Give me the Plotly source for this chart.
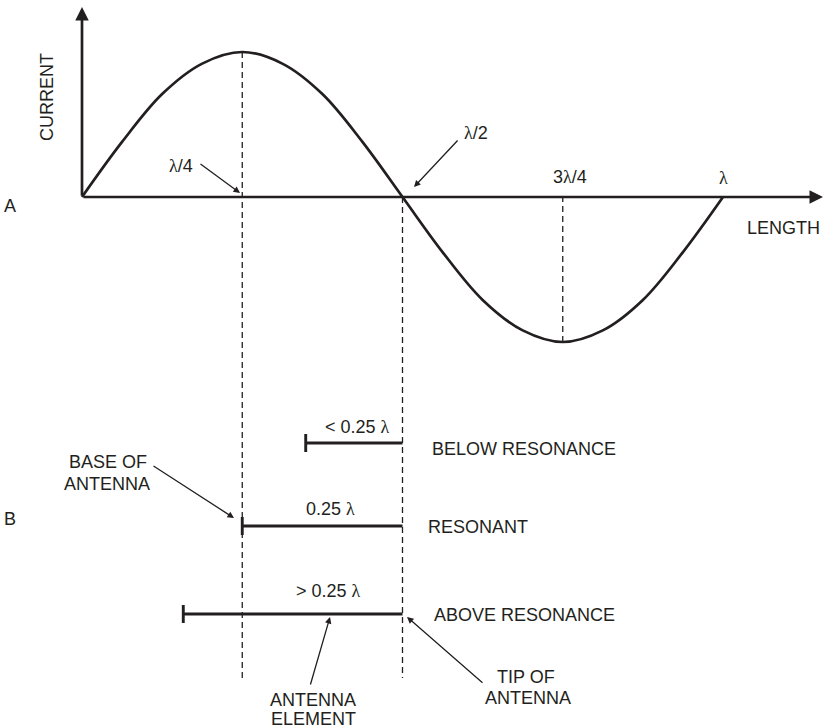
import plotly.graph_objects as go

# ---- data (x in wavelengths, y in relative current) ----
wave_x = [0, 0.0625, 0.125, 0.1875, 0.25, 0.3125, 0.375, 0.4375, 0.5,
          0.5625, 0.625, 0.6875, 0.75, 0.8125, 0.875, 0.9375, 1.0]
wave_y = [0, 0.38, 0.71, 0.92, 1.0, 0.92, 0.71, 0.38, 0,
          -0.38, -0.71, -0.92, -1.0, -0.92, -0.71, -0.38, 0]

marker_x = [0.25, 0.5, 0.75, 1.0]
marker_labels = ["λ/4", "λ/2", "3λ/4", "λ"]

bar_tip = 0.5
bar_lengths = [0.151, 0.25, 0.342]
bar_labels = ["< 0.25 λ", "0.25 λ", "> 0.25 λ"]
bar_states = ["BELOW RESONANCE", "RESONANT", "ABOVE RESONANCE"]

# ---- pixel helpers for layout positions ----
X0, PXL = 82.0, 641.0      # x origin px, px per wavelength
Y0, PXA = 197.0, 145.0     # y origin px, px per unit current
W, H = 824, 728


def fx(px):
    return (px - X0) / PXL


def fy(py):
    return (Y0 - py) / PXA


def lam(s):
    # render the lambda glyph in a serif face, as in the original
    return s.replace("λ", "<span style='font-family:Liberation Serif, serif'>λ</span>")


INK = "#231f20"
FONT = dict(family="Liberation Sans, Arial, sans-serif", size=18, color=INK)

fig = go.Figure()

# dashed guide lines
dash_bottom = fy(678)
guides = [(marker_x[0], 1.0, dash_bottom), (marker_x[1], 0.0, dash_bottom), (marker_x[2], -1.0, 0.0)]
for gx, gy0, gy1 in guides:
    fig.add_trace(go.Scatter(x=[gx, gx], y=[gy0, gy1], mode="lines",
                             line=dict(color=INK, width=1.3, dash="6px,4px"),
                             hoverinfo="skip", showlegend=False))

# sine wave
fig.add_trace(go.Scatter(x=wave_x, y=wave_y, mode="lines", line_shape="spline",
                         line=dict(color=INK, width=2.7), hoverinfo="skip", showlegend=False))

# antenna element bars
row_py = [443, 526, 614]
for L, py in zip(bar_lengths, row_py):
    yy = fy(py)
    fig.add_trace(go.Scatter(x=[bar_tip - L, bar_tip], y=[yy, yy], mode="lines",
                             line=dict(color=INK, width=2.9), hoverinfo="skip", showlegend=False))
    fig.add_trace(go.Scatter(x=[bar_tip - L, bar_tip - L], y=[fy(py - 9), fy(py + 9)], mode="lines",
                             line=dict(color=INK, width=2.9), hoverinfo="skip", showlegend=False))

ann = []


def text(px, py, t, xanchor="center", yanchor="middle", angle=0):
    ann.append(dict(x=fx(px), y=fy(py), text=lam(t), showarrow=False, xanchor=xanchor,
                    yanchor=yanchor, textangle=angle, font=FONT, xref="x", yref="y"))


def arrow(tx, ty, hx, hy, width=1.3, size=1.0, head=2):
    ann.append(dict(x=fx(hx), y=fy(hy), ax=fx(tx), ay=fy(ty), axref="x", ayref="y",
                    xref="x", yref="y", text="", showarrow=True, arrowhead=head,
                    arrowsize=size, arrowwidth=width, arrowcolor=INK, standoff=0))


# axes with arrows
arrow(X0, Y0, 823, Y0, width=2.7, size=1.0)
arrow(X0, Y0, X0, 7, width=2.7, size=1.0)

# labels part A
text(47, 97, "CURRENT", angle=-90)
text(10, 206, "A")
text(783, 228, "LENGTH")
text(181, 166, marker_labels[0])
text(476, 133, marker_labels[1])
text(570, 177, marker_labels[2])
text(723, 178, marker_labels[3])
arrow(199, 163, 240, 193)
arrow(459, 139, 414, 187)

# labels part B
text(10, 519, "B")
text(392, 427, bar_labels[0], xanchor="right")
text(330, 509, bar_labels[1])
text(328, 591, bar_labels[2])
text(430, 449, bar_states[0], xanchor="left")
text(426, 527, bar_states[1], xanchor="left")
text(432, 615, bar_states[2], xanchor="left")
text(108, 462, "BASE OF")
text(107, 484, "ANTENNA")
arrow(152, 465, 234, 518)
text(526, 677, "TIP OF")
text(528, 698, "ANTENNA")
arrow(484, 684, 407, 617)
text(313, 700, "ANTENNA")
text(313, 719, "ELEMENT")
arrow(310, 686, 330, 617)

fig.update_layout(
    width=W, height=H,
    margin=dict(l=0, r=0, t=0, b=0),
    paper_bgcolor="white", plot_bgcolor="white",
    xaxis=dict(range=[fx(0), fx(W)], visible=False, fixedrange=True),
    yaxis=dict(range=[fy(H), fy(0)], visible=False, fixedrange=True),
    annotations=ann,
    showlegend=False,
)

fig.write_html("out.html", config={"displayModeBar": False},
               post_script="document.body.style.margin='0';document.body.style.overflow='hidden';")
